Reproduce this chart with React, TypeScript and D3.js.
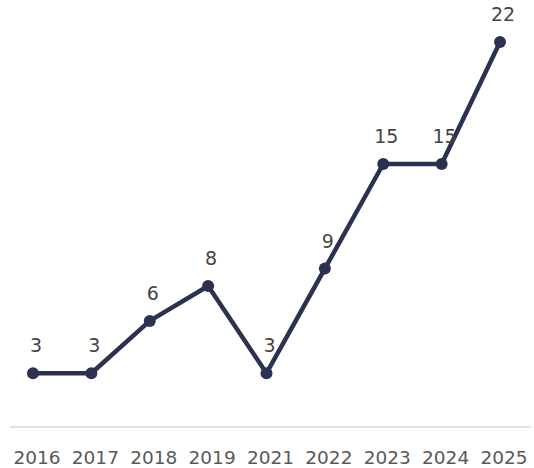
import React from "react";
import * as d3 from "d3";

const categories = ["2016", "2017", "2018", "2019", "2021", "2022", "2023", "2024", "2025"];
const values = [3, 3, 6, 8, 3, 9, 15, 15, 22];

export default function App() {
  const W = 534, H = 468;
  const x = d3.scalePoint<string>().domain(categories).range([33, 500]);
  const y = d3.scaleLinear().domain([0, 22]).range([425.5, 42]);
  const line = d3.line<number>().x((_, i) => x(categories[i])!).y((d) => y(d));
  const font = "'DejaVu Sans', sans-serif";
  return (
    <svg width={W} height={H} style={{ position: "absolute", left: 0, top: 0 }}>
      <line x1={10} x2={531} y1={427} y2={427} stroke="#d9d9d9" strokeWidth={1.5} />
      {categories.map((c) => (
        <text key={c} x={x(c)! + 4} y={464} textAnchor="middle" fontFamily={font} fontSize={18.5} fill="#595959">
          {c}
        </text>
      ))}
      <path d={line(values)!} fill="none" stroke="#2b3150" strokeWidth={4.5} strokeLinejoin="round" />
      {values.map((v, i) => (
        <circle key={i} cx={x(categories[i])!} cy={y(v)} r={6} fill="#2b3150" />
      ))}
      {values.map((v, i) => (
        <text key={"l" + i} x={x(categories[i])! + 3} y={y(v) - 21} textAnchor="middle" fontFamily={font} fontSize={19} fill="#454545">
          {v}
        </text>
      ))}
    </svg>
  );
}
